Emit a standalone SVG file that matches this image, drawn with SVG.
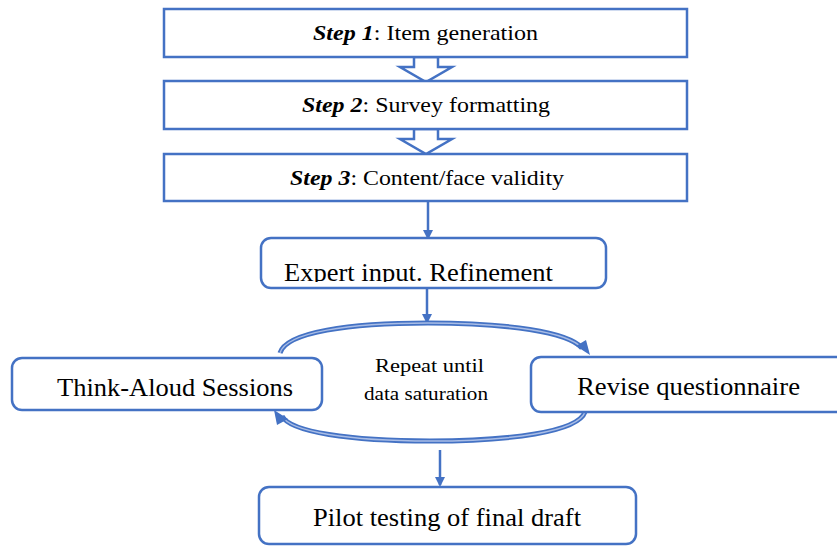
<svg xmlns="http://www.w3.org/2000/svg" width="837" height="546" viewBox="0 0 837 546">
<style>
.box{fill:#fff;stroke:#4472C4;stroke-width:2.5}
.t{font-family:"Liberation Serif","DejaVu Serif","Times New Roman",serif;fill:#000}
.ln{stroke:#4472C4;stroke-width:2.5;fill:none}
.hollow{fill:#fff;stroke:#4472C4;stroke-width:2.5;stroke-linejoin:miter}
.arcO{fill:none;stroke:#4472C4;stroke-width:5}
.arcI{fill:none;stroke:#a9bde6;stroke-width:1.5}
</style>
<defs>
<marker id="ah" markerWidth="10" markerHeight="10" refX="8" refY="5" orient="auto" markerUnits="userSpaceOnUse">
<path d="M0,0 L10,5 L0,10 z" fill="#4472C4"/>
</marker>
<clipPath id="clipExp"><rect x="255" y="236" width="360" height="46"/></clipPath>
</defs>
<g id="connectors">
<polygon class="hollow" points="414,57 438,57 438,67 452,67 426,82 400,67 414,67"/>
<polygon class="hollow" points="414,129 438,129 438,139 452,139 426,154 400,139 414,139"/>
<line class="ln" x1="428" y1="201" x2="428" y2="238" marker-end="url(#ah)"/>
<line class="ln" x1="427" y1="288" x2="427" y2="322" marker-end="url(#ah)"/>
<line class="ln" x1="440" y1="450" x2="440" y2="485" marker-end="url(#ah)"/>
<g id="cycle">
<path class="arcO" d="M280,353 C286,332 350,323 428,323 C508,323 568,332 582,348"/>
<path class="arcI" d="M280,353 C286,332 350,323 428,323 C508,323 568,332 582,348"/>
<polygon points="576,346 590,355 586,340" fill="#4472C4"/>
<path class="arcO" d="M585,412 C578,432 510,441 430,441 C350,441 290,432 282,416"/>
<path class="arcI" d="M585,412 C578,432 510,441 430,441 C350,441 290,432 282,416"/>
<polygon points="288,419 274,410 277,425" fill="#4472C4"/>
</g>
</g>
<g id="step1">
<rect class="box" x="164" y="9" width="523" height="48"/>
<text class="t" x="313" y="40" font-size="22" textLength="225" lengthAdjust="spacingAndGlyphs"><tspan font-weight="bold" font-style="italic">Step 1</tspan>: Item generation</text>
</g>
<g id="step2">
<rect class="box" x="164" y="81" width="523" height="48"/>
<text class="t" x="302" y="112" font-size="22" textLength="248" lengthAdjust="spacingAndGlyphs"><tspan font-weight="bold" font-style="italic">Step 2</tspan>: Survey formatting</text>
</g>
<g id="step3">
<rect class="box" x="164" y="154" width="523" height="47"/>
<text class="t" x="290" y="185" font-size="22" textLength="274" lengthAdjust="spacingAndGlyphs"><tspan font-weight="bold" font-style="italic">Step 3</tspan>: Content/face validity</text>
</g>
<g id="expert">
<rect class="box" x="261" y="238" width="345" height="50" rx="10"/>
<text class="t" x="284" y="281" font-size="26" textLength="269" lengthAdjust="spacingAndGlyphs" clip-path="url(#clipExp)">Expert input. Refinement</text>
</g>
<g id="think">
<rect class="box" x="12" y="358" width="310" height="52" rx="10"/>
<text class="t" x="57" y="396" font-size="26" textLength="236" lengthAdjust="spacingAndGlyphs">Think-Aloud Sessions</text>
</g>
<g id="center-label">
<text class="t" x="375" y="372" font-size="19" textLength="109" lengthAdjust="spacingAndGlyphs">Repeat until</text>
<text class="t" x="364" y="400" font-size="19" textLength="124" lengthAdjust="spacingAndGlyphs">data saturation</text>
</g>
<g id="revise">
<rect class="box" x="531" y="357" width="320" height="55" rx="10"/>
<text class="t" x="577" y="395" font-size="26" textLength="223" lengthAdjust="spacingAndGlyphs">Revise questionnaire</text>
</g>
<g id="pilot">
<rect class="box" x="259" y="487" width="377" height="57" rx="10"/>
<text class="t" x="313" y="526" font-size="26" textLength="268" lengthAdjust="spacingAndGlyphs">Pilot testing of final draft</text>
</g>
</svg>
